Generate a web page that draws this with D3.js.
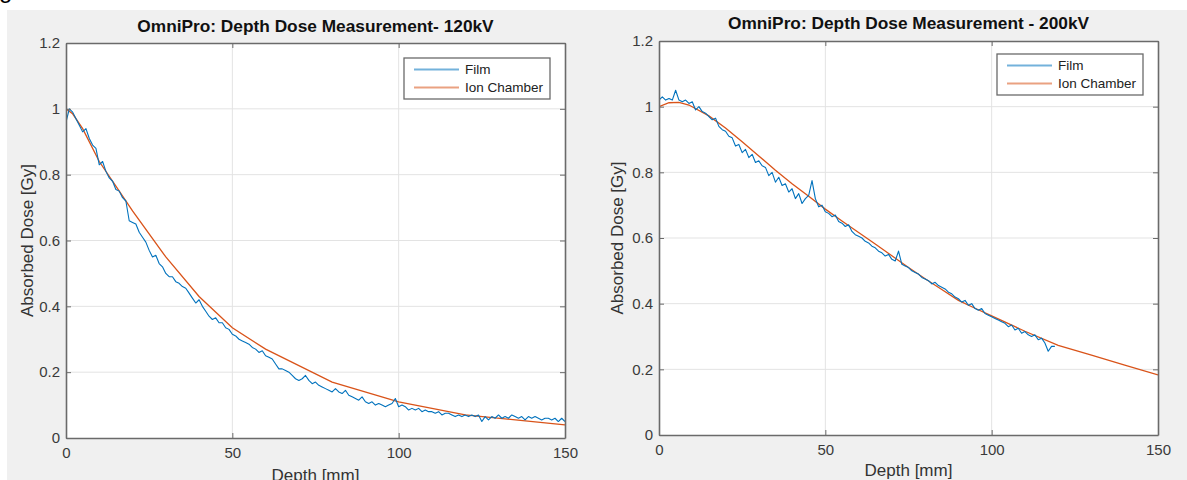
<!DOCTYPE html>
<html>
<head>
<meta charset="utf-8">
<script src="https://cdn.jsdelivr.net/npm/d3@7"></script>
<style>
  html, body { margin: 0; padding: 0; background: #ffffff; }
  svg { display: block; }
  text { font-family: "Liberation Sans", Arial, Helvetica, sans-serif; }
</style>
</head>
<body>
<svg id="chart" width="1187" height="480"></svg>
<script>
// ---------------- DATA ----------------
const xTicks = [0, 50, 100, 150];
const yTicks = [0, 0.2, 0.4, 0.6, 0.8, 1, 1.2];
const seriesNames = ["Film", "Ion Chamber"];

const titles = ["OmniPro: Depth Dose Measurement- 120kV", "OmniPro: Depth Dose Measurement - 200kV"];
const xLabel = "Depth [mm]";
const yLabel = "Absorbed Dose [Gy]";

// 120kV film: depth 0..150 mm, 1 mm steps
const film120 = [
  0.96, 1.00, 0.99, 0.97, 0.95, 0.93, 0.94, 0.91, 0.89, 0.88,
  0.83, 0.84, 0.81, 0.79, 0.78, 0.755, 0.75, 0.73, 0.72, 0.66,
  0.655, 0.65, 0.625, 0.61, 0.595, 0.57, 0.55, 0.555, 0.53, 0.52,
  0.50, 0.49, 0.49, 0.475, 0.47, 0.46, 0.455, 0.44, 0.425, 0.41,
  0.42, 0.40, 0.385, 0.37, 0.36, 0.365, 0.35, 0.35, 0.335, 0.33,
  0.315, 0.31, 0.30, 0.295, 0.29, 0.285, 0.275, 0.27, 0.26, 0.265,
  0.25, 0.245, 0.24, 0.225, 0.21, 0.21, 0.205, 0.20, 0.19, 0.18,
  0.175, 0.18, 0.19, 0.175, 0.165, 0.17, 0.16, 0.155, 0.15, 0.145,
  0.14, 0.15, 0.14, 0.135, 0.145, 0.13, 0.125, 0.12, 0.115, 0.125,
  0.11, 0.105, 0.11, 0.10, 0.105, 0.10, 0.095, 0.10, 0.105, 0.12,
  0.095, 0.10, 0.095, 0.085, 0.09, 0.085, 0.09, 0.08, 0.085, 0.08,
  0.08, 0.075, 0.08, 0.07, 0.075, 0.075, 0.07, 0.065, 0.07, 0.065,
  0.07, 0.065, 0.07, 0.065, 0.07, 0.05, 0.065, 0.055, 0.065, 0.06,
  0.07, 0.06, 0.065, 0.06, 0.07, 0.065, 0.06, 0.065, 0.055, 0.065,
  0.06, 0.065, 0.06, 0.055, 0.06, 0.06, 0.055, 0.06, 0.05, 0.06,
  0.05
];
// 120kV ion chamber: [depth, dose]
const ion120Depth = [0, 2, 5, 10, 15, 20, 30, 40, 50, 60, 80, 100, 120, 150];
const ion120Dose  = [1.0, 0.985, 0.94, 0.84, 0.765, 0.69, 0.55, 0.43, 0.335, 0.27, 0.17, 0.11, 0.07, 0.04];

// 200kV film: depth 0..119 mm, 1 mm steps
const film200 = [
  1.02, 1.03, 1.02, 1.025, 1.02, 1.05, 1.02, 1.015, 1.02, 1.01,
  1.015, 0.99, 1.0, 0.985, 0.98, 0.97, 0.96, 0.965, 0.94, 0.93,
  0.925, 0.91, 0.905, 0.88, 0.885, 0.86, 0.87, 0.845, 0.855, 0.83,
  0.835, 0.82, 0.815, 0.79, 0.80, 0.77, 0.785, 0.76, 0.765, 0.74,
  0.75, 0.72, 0.735, 0.705, 0.72, 0.73, 0.775, 0.72, 0.695, 0.70,
  0.68, 0.675, 0.665, 0.67, 0.65, 0.645, 0.635, 0.64, 0.62, 0.61,
  0.605, 0.60, 0.59, 0.585, 0.575, 0.57, 0.56, 0.555, 0.545, 0.55,
  0.535, 0.53, 0.56, 0.52, 0.515, 0.51, 0.50, 0.495, 0.49, 0.48,
  0.475, 0.47, 0.46, 0.465, 0.455, 0.45, 0.445, 0.435, 0.43, 0.42,
  0.415, 0.405, 0.41, 0.395, 0.40, 0.385, 0.38, 0.385, 0.37, 0.365,
  0.36, 0.355, 0.35, 0.345, 0.34, 0.33, 0.335, 0.32, 0.325, 0.31,
  0.315, 0.305, 0.30, 0.305, 0.29, 0.295, 0.28, 0.255, 0.27, 0.27
];
// 200kV ion chamber
const ion200Depth = [0, 3, 6, 9, 15, 20, 25, 30, 35, 40, 45, 50, 55, 60, 65, 70, 75, 80, 85, 90, 95, 100, 110, 120, 130, 140, 150];
const ion200Dose  = [1.0, 1.012, 1.013, 1.005, 0.972, 0.935, 0.893, 0.85, 0.806, 0.765, 0.727, 0.688, 0.652, 0.617, 0.582, 0.546, 0.51, 0.476, 0.443, 0.41, 0.386, 0.363, 0.316, 0.273, 0.243, 0.213, 0.183];

// ---------------- STYLE / LAYOUT ----------------
const colors = ["#0072BD", "#D95319"];
const W = 1187, H = 480;

const panels = [
  { title: titles[0], film: film120, ionD: ion120Depth, ionV: ion120Dose,
    left: 66, right: 565, top: 43, bottom: 438, titleY: 32, xLabY: 481, yLabX: 33,
    legX: 404, legY: 58 },
  { title: titles[1], film: film200, ionD: ion200Depth, ionV: ion200Dose,
    left: 659, right: 1158, top: 41, bottom: 435, titleY: 29, xLabY: 476, yLabX: 623,
    legX: 997, legY: 54 }
];

const svg = d3.select("#chart");

svg.append("rect").attr("x", 0).attr("y", 0).attr("width", W).attr("height", H).attr("fill", "#ffffff");
svg.append("rect").attr("x", 7).attr("y", 10).attr("width", W - 7).attr("height", H - 10).attr("fill", "#f0f0f0");
// clipped caption fragment at top-left
svg.append("text").attr("x", -1).attr("y", -2).attr("font-family", "Liberation Serif, Times New Roman, serif")
  .attr("font-size", 24).attr("fill", "#000").text("g");

panels.forEach((p, i) => {
  const x = d3.scaleLinear().domain([0, 150]).range([p.left, p.right]);
  const y = d3.scaleLinear().domain([0, 1.2]).range([p.bottom, p.top]);
  const g = svg.append("g");

  g.append("rect").attr("x", p.left).attr("y", p.top)
    .attr("width", p.right - p.left).attr("height", p.bottom - p.top).attr("fill", "#ffffff");

  // grid
  g.append("g").selectAll("line").data(xTicks.slice(1, -1)).join("line")
    .attr("x1", d => x(d)).attr("x2", d => x(d)).attr("y1", p.top).attr("y2", p.bottom)
    .attr("stroke", "#e3e3e3").attr("stroke-width", 1);
  g.append("g").selectAll("line").data(yTicks.slice(1, -1)).join("line")
    .attr("y1", d => y(d)).attr("y2", d => y(d)).attr("x1", p.left).attr("x2", p.right)
    .attr("stroke", "#e3e3e3").attr("stroke-width", 1);

  // clip
  const clipId = "clip" + i;
  svg.append("clipPath").attr("id", clipId).append("rect")
    .attr("x", p.left).attr("y", p.top).attr("width", p.right - p.left).attr("height", p.bottom - p.top);

  const line = d3.line().x(d => x(d[0])).y(d => y(d[1]));
  const filmPts = p.film.map((v, k) => [k, v]);
  const ionPts = p.ionD.map((d, k) => [d, p.ionV[k]]);

  const lines = g.append("g").attr("clip-path", `url(#${clipId})`);
  lines.append("path").datum(ionPts).attr("d", line)
    .attr("fill", "none").attr("stroke", colors[1]).attr("stroke-width", 1.3);
  lines.append("path").datum(filmPts).attr("d", line)
    .attr("fill", "none").attr("stroke", colors[0]).attr("stroke-width", 1.1).attr("stroke-linejoin", "round");

  // axes
  const axisColor = "#6a6a6a";
  const fmt = d => String(d);
  const bottom = g.append("g").attr("transform", `translate(0,${p.bottom})`)
    .call(d3.axisBottom(x).tickValues(xTicks).tickSizeInner(-5).tickSizeOuter(0).tickPadding(9).tickFormat(fmt));
  const leftAx = g.append("g").attr("transform", `translate(${p.left},0)`)
    .call(d3.axisLeft(y).tickValues(yTicks).tickSizeInner(-5).tickSizeOuter(0).tickPadding(6).tickFormat(fmt));
  const topAx = g.append("g").attr("transform", `translate(0,${p.top})`)
    .call(d3.axisTop(x).tickValues(xTicks).tickSizeInner(-5).tickSizeOuter(0).tickFormat(""));
  const rightAx = g.append("g").attr("transform", `translate(${p.right},0)`)
    .call(d3.axisRight(y).tickValues(yTicks).tickSizeInner(-5).tickSizeOuter(0).tickFormat(""));

  [bottom, leftAx, topAx, rightAx].forEach(a => {
    a.select(".domain").attr("stroke", axisColor).attr("stroke-width", 1.6);
    a.selectAll(".tick line").attr("stroke", axisColor).attr("stroke-width", 1);
    a.selectAll("text").attr("font-size", 15).attr("fill", "#3a3a3a")
      .attr("font-family", "Liberation Sans, Arial, sans-serif");
  });

  // title
  g.append("text").attr("x", (p.left + p.right) / 2).attr("y", p.titleY)
    .attr("text-anchor", "middle").attr("font-weight", "bold").attr("font-size", 17.3)
    .attr("fill", "#111").text(p.title);

  // axis labels
  g.append("text").attr("x", (p.left + p.right) / 2).attr("y", p.xLabY)
    .attr("text-anchor", "middle").attr("font-size", 17).attr("fill", "#333").text(xLabel);
  g.append("text").attr("transform", `translate(${p.yLabX},${(p.top + p.bottom) / 2}) rotate(-90)`)
    .attr("text-anchor", "middle").attr("font-size", 17).attr("fill", "#333").text(yLabel);

  // legend
  const leg = g.append("g").attr("transform", `translate(${p.legX},${p.legY})`);
  leg.append("rect").attr("x", 0).attr("y", 0).attr("width", 146).attr("height", 41)
    .attr("fill", "#ffffff").attr("stroke", "#6a6a6a").attr("stroke-width", 1.3);
  seriesNames.forEach((name, k) => {
    const ly = 11.5 + k * 18;
    leg.append("line").attr("x1", 10).attr("x2", 55).attr("y1", ly).attr("y2", ly)
      .attr("stroke", colors[k]).attr("stroke-width", 2).attr("stroke-opacity", 0.55);
    leg.append("text").attr("x", 61).attr("y", ly + 4.8).attr("font-size", 13.5)
      .attr("fill", "#222").text(name);
  });
});
</script>
</body>
</html>
